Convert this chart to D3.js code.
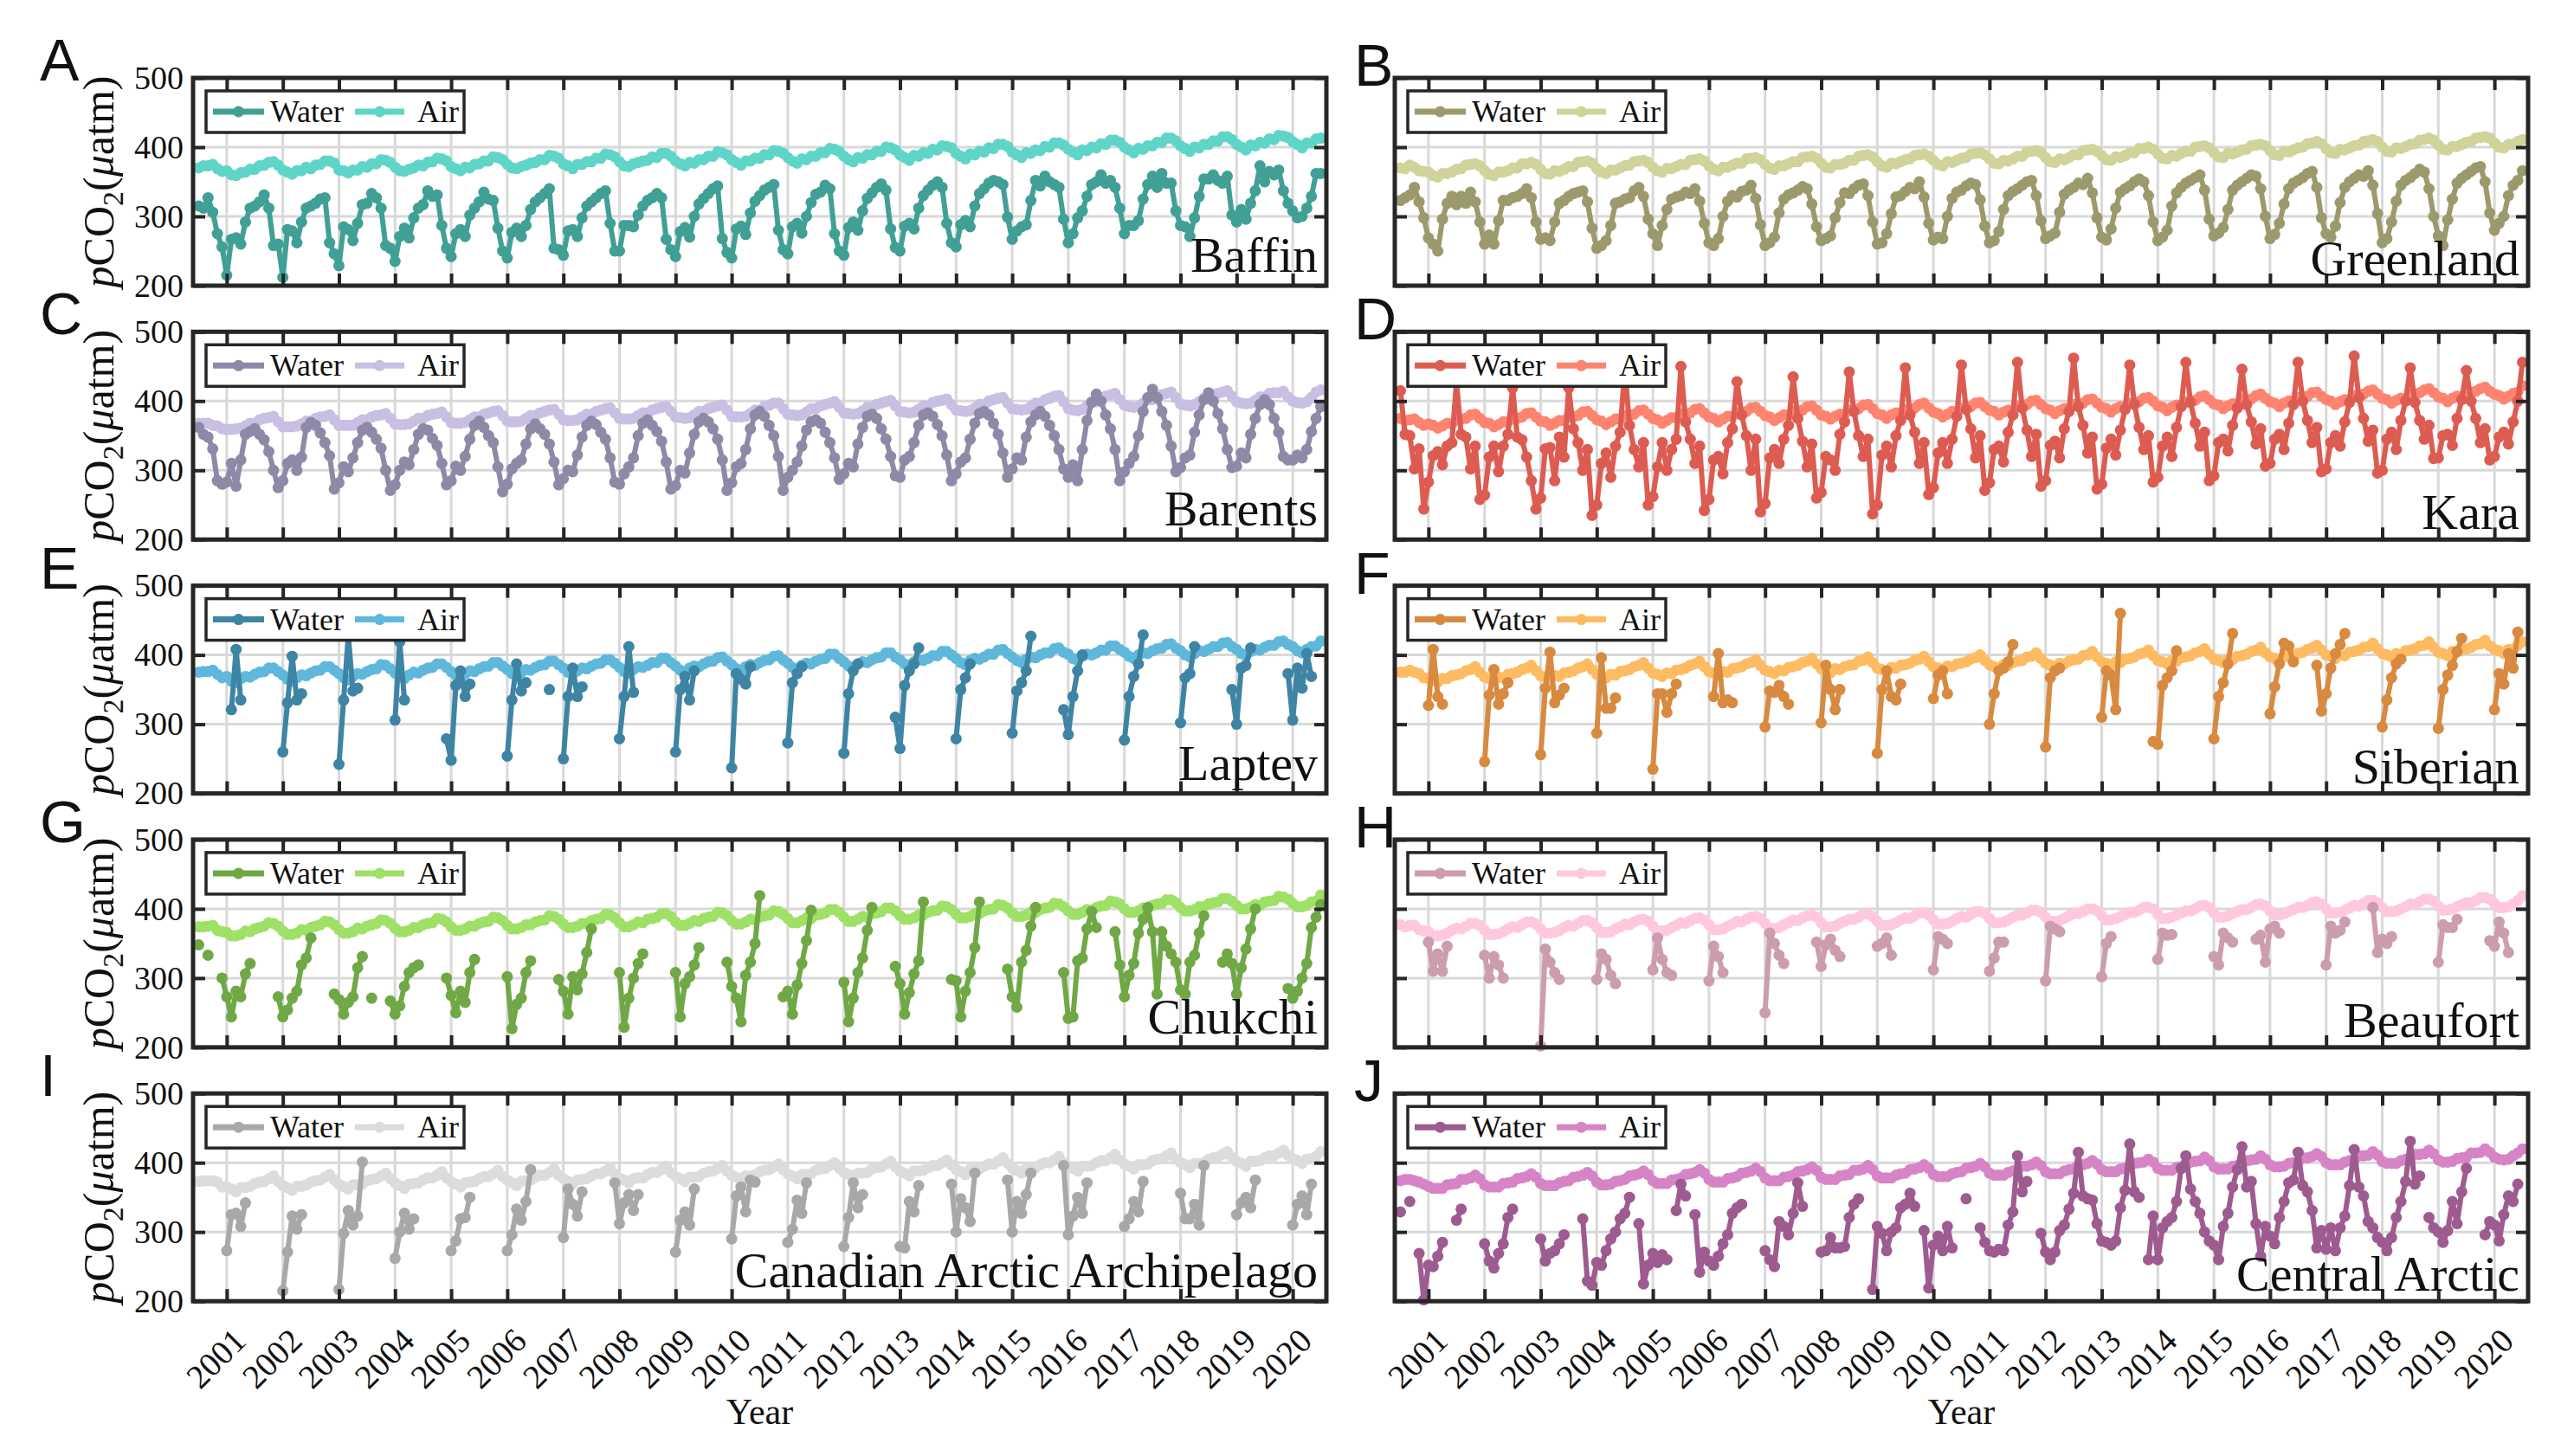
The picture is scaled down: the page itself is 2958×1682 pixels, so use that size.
<!DOCTYPE html>
<html><head><meta charset="utf-8">
<script src="https://cdn.jsdelivr.net/npm/d3@7"></script>
<style>html,body{margin:0;padding:0;background:#fff;} svg{display:block;}</style>
</head><body>
<svg id="chart" width="2958" height="1682"></svg>
<script>
const _ = null;
const yearTicks = [2001,2002,2003,2004,2005,2006,2007,2008,2009,2010,2011,2012,2013,2014,2015,2016,2017,2018,2019,2020];
const yTicks = [200,300,400,500];
const firstMonth = 2000.5; // first monthly sample (values below are monthly, Jul 2000 .. Jul 2020)
const regionNames = ["Baffin","Greenland","Barents","Kara","Laptev","Siberian","Chukchi","Beaufort","Canadian Arctic Archipelago","Central Arctic"];
const panelLetters = ["A","B","C","D","E","F","G","H","I","J"];
const waterColors = ["#40a095","#9c9a6c","#8f89a8","#dd5c52","#3e84a4","#d88a40","#6fa845","#cc9caf","#a8a8a8","#9e5b90"];
const airColors   = ["#5fd5c8","#d0d39a","#c8bfe3","#ff8470","#5fb8dc","#ffbb62","#9fe066","#ffc8df","#dcdcdc","#d684c6"];

const baffinWater = [315,312,327,306,275,256,
215,267,269,260,292,312,315,321,331,312,258,260,
212,281,279,262,292,312,315,319,325,327,262,246,
229,285,281,265,290,317,319,333,327,312,258,254,
235,271,283,269,298,312,317,337,329,331,287,254,
242,275,281,271,302,312,321,335,325,323,283,250,
240,277,283,271,287,310,321,327,333,340,254,252,
244,279,281,271,298,315,321,327,333,337,290,250,
250,287,287,285,302,315,323,327,333,327,267,252,
242,278,284,270,300,318,326,333,340,344,268,248,
240,282,286,274,305,322,330,338,342,346,280,252,
246,285,290,276,300,320,332,335,345,340,275,250,
244,284,292,280,308,326,334,342,347,338,282,255,
250,286,290,282,312,330,338,345,350,342,290,262,
256,288,294,285,315,333,340,348,352,350,346,299,
267,279,285,288,323,352,344,358,350,346,342,296,
262,275,298,308,329,346,350,360,348,352,342,312,
275,287,287,294,325,346,358,342,362,348,348,308,
287,285,271,298,329,354,354,360,352,348,358,302,
292,310,296,319,337,373,350,365,360,367,337,319,
308,298,300,312,329,362,362];
const baffinAir = [370,373,373,375,369,365,
366,360,359,363,364,368,368,373,374,378,379,374,
367,364,361,366,366,371,369,374,375,380,380,377,
367,366,363,367,367,372,371,376,376,382,381,378,
371,366,365,368,370,374,373,378,379,384,383,380,
372,369,366,371,370,375,376,380,380,386,385,382,
375,370,369,372,374,377,378,382,382,388,387,384,
376,373,369,375,375,379,379,384,384,390,389,386,
379,373,372,376,378,380,381,386,385,391,391,387,
380,376,373,378,377,382,382,387,387,393,392,389,
382,378,374,380,380,384,384,389,389,395,394,391,
385,380,377,383,382,387,387,392,392,398,397,394,
387,382,379,385,384,389,389,394,394,400,399,396,
389,385,381,388,387,392,391,397,396,402,401,399,
391,387,383,390,389,394,393,399,398,404,404,401,
393,389,385,392,391,396,395,401,400,406,406,403,
397,393,389,396,395,400,399,405,404,410,410,407,
400,396,392,398,397,402,402,407,407,413,413,409,
402,398,394,400,399,404,404,409,409,415,415,411,
404,400,396,403,402,407,406,412,411,417,416,414,
408,404,399,406,406,412,413];

const greenlandWater = [323,327,331,342,321,298,
269,260,250,296,319,329,317,329,319,335,321,292,
260,273,260,294,323,323,327,329,333,340,327,292,
267,269,265,292,319,323,329,333,335,337,321,283,
254,258,265,287,319,321,325,327,337,342,329,296,
275,258,287,310,325,328,330,335,333,340,322,290,
262,258,268,300,322,330,328,336,338,345,326,288,
258,262,270,305,325,331,334,338,343,340,318,285,
265,268,272,298,320,334,333,340,345,347,330,292,
260,262,275,304,328,330,336,342,340,350,328,290,
266,270,268,300,326,335,338,344,348,346,324,286,
262,265,278,310,330,336,340,345,350,352,330,294,
268,272,276,306,332,338,342,348,346,355,334,298,
270,266,282,312,335,340,344,350,354,350,330,292,
265,270,280,315,334,342,348,352,356,360,338,296,
272,276,284,310,338,345,350,355,360,358,340,300,
268,274,290,318,340,348,352,356,362,365,342,298,
275,270,286,320,342,350,355,360,358,366,345,304,
262,268,292,322,345,352,356,362,368,364,340,300,
272,258,295,325,348,355,360,365,370,372,350,305,
280,290,300,330,345,352,366];
const greenlandAir = [370,369,374,371,366,365,
364,359,357,362,362,364,368,369,374,375,376,373,
366,361,359,364,364,366,370,370,376,376,378,375,
368,362,361,366,365,368,372,372,378,379,380,377,
369,364,362,367,367,370,373,374,379,380,381,378,
371,366,364,369,369,372,375,375,381,382,383,380,
373,368,366,371,371,374,377,377,383,384,385,382,
375,370,368,373,373,376,379,379,385,386,387,384,
377,371,370,375,375,377,381,381,387,388,389,386,
379,373,371,377,376,379,382,383,388,389,390,387,
381,375,373,379,378,381,384,385,390,391,392,389,
383,377,376,381,380,383,387,387,393,394,395,392,
385,379,378,383,382,385,389,389,395,396,397,394,
388,382,381,386,385,388,392,392,398,398,400,397,
390,384,383,388,387,391,394,394,400,401,402,399,
392,386,385,391,390,393,396,397,402,403,404,402,
395,389,388,394,393,396,399,400,405,406,408,405,
398,392,391,397,396,399,402,403,408,409,411,408,
400,394,393,399,398,401,404,405,410,411,413,410,
403,397,396,401,401,404,407,408,413,414,415,413,
406,400,399,404,404,408,411];

const barentsWater = [362,352,348,331,285,280,
283,310,277,315,352,356,360,352,344,327,300,275,
285,310,315,300,319,362,369,365,354,340,321,273,
282,305,298,318,340,358,362,355,345,332,300,271,
279,300,312,308,330,352,360,358,346,336,310,279,
285,306,300,320,345,365,371,362,350,340,305,269,
280,302,310,315,338,360,367,360,352,338,312,279,
288,300,298,322,348,365,371,366,355,345,318,283,
280,295,305,318,350,368,373,365,356,342,312,273,
278,300,296,325,352,370,375,370,360,345,315,271,
282,305,310,330,360,380,385,378,365,350,320,271,
290,300,312,335,358,370,373,368,355,340,318,287,
295,310,305,338,362,378,381,375,360,345,320,292,
290,315,320,340,365,380,383,378,366,350,322,285,
295,312,318,345,368,382,385,380,368,352,325,290,
302,318,315,348,370,380,385,378,365,350,330,302,
290,308,285,330,372,398,410,400,380,360,330,285,
298,310,320,350,385,405,417,405,385,365,335,298,
304,318,322,355,380,402,412,400,382,360,330,304,
306,325,318,352,375,395,402,395,375,355,320,315,
315,322,318,330,356,375,392];
const barentsAir = [368,368,368,365,364,360,
359,359,360,361,364,368,368,373,375,376,378,370,
363,363,363,364,367,371,371,375,377,378,380,373,
365,365,365,365,369,373,373,377,379,380,382,375,
367,366,366,367,371,375,375,379,381,382,384,377,
369,368,368,369,373,377,377,381,383,385,386,379,
371,370,370,371,375,379,379,383,385,387,388,381,
373,372,372,373,377,381,381,385,387,389,390,383,
375,374,374,375,379,383,383,387,389,391,392,385,
377,376,375,376,380,385,385,389,391,393,394,387,
378,377,377,378,382,387,387,392,394,397,397,389,
381,380,379,380,384,389,389,393,395,397,399,391,
383,382,381,382,386,391,391,395,397,399,401,393,
385,384,383,384,388,393,393,398,400,401,403,395,
387,386,385,386,390,395,395,400,402,404,405,397,
389,388,387,388,392,397,397,402,404,407,408,399,
389,387,386,388,393,399,399,404,407,409,411,402,
394,392,391,392,397,402,402,407,409,411,413,405,
396,394,393,395,399,404,404,409,411,413,415,407,
399,397,396,397,401,406,406,411,412,412,414,406,
400,398,397,399,405,413,416];

const karaWater = [415,352,350,302,331,244,
283,321,327,308,335,340,427,352,348,302,335,258,
264,319,335,298,335,352,419,348,344,319,285,244,
260,331,333,285,348,319,419,360,340,300,330,235,
250,310,325,290,335,355,448,365,330,305,340,250,
262,305,340,300,330,345,450,370,345,310,335,242,
258,315,320,295,340,360,428,380,350,300,345,240,
252,318,330,310,345,365,435,375,342,305,338,260,
268,320,315,300,352,370,442,385,350,320,345,237,
250,322,335,305,350,372,448,380,355,310,340,265,
275,325,340,310,345,378,452,388,360,318,350,271,
282,330,335,312,355,380,456,390,358,320,352,277,
285,336,342,318,360,385,462,392,365,325,348,273,
280,332,345,322,358,388,452,395,362,330,350,283,
290,335,348,320,362,392,456,398,368,335,355,285,
292,340,345,328,365,390,446,395,370,338,360,306,
310,345,352,330,368,395,456,400,372,340,362,298,
302,340,350,335,370,398,465,405,375,342,358,296,
300,345,355,330,372,400,448,398,372,345,365,317,
318,350,352,336,375,402,444,400,375,340,360,315,
320,348,355,338,370,400,456];
const karaAir = [375,372,373,374,369,365,
367,365,361,364,368,367,373,374,375,380,381,375,
369,368,363,366,370,370,375,375,377,382,383,377,
371,370,365,368,372,372,377,377,379,384,385,379,
373,371,366,370,374,374,379,379,381,386,387,381,
375,373,368,372,376,376,381,381,383,388,389,383,
377,375,370,374,378,378,383,383,385,390,391,385,
379,377,372,376,380,380,385,385,387,392,393,387,
380,378,374,378,381,381,387,387,389,394,395,389,
382,380,375,380,383,383,388,389,390,395,397,390,
384,382,377,381,385,385,390,391,392,397,398,392,
387,385,380,384,387,387,393,393,395,400,401,395,
389,387,382,386,389,389,395,395,397,402,403,397,
391,389,384,389,392,392,397,398,399,404,405,400,
393,391,386,391,394,394,399,400,401,406,408,402,
396,394,389,393,396,396,402,402,403,408,410,404,
399,397,392,397,400,400,405,406,407,412,413,407,
402,400,395,399,402,402,408,408,410,414,416,410,
404,402,397,401,404,404,410,410,412,416,418,412,
406,404,399,404,407,407,412,413,414,418,420,414,
410,408,403,407,411,413,422];

const laptevWater = [_,_,_,_,_,_,
_,321,408,335,_,_,_,_,_,_,_,_,
260,331,398,335,344,_,_,_,_,_,_,_,
242,335,428,348,352,_,_,_,_,_,_,_,
306,419,335,_,_,_,_,_,_,_,_,279,
248,356,377,340,358,_,_,_,_,_,_,_,
254,335,387,348,360,_,_,_,_,350,_,_,
250,340,381,340,354,_,_,_,_,_,_,_,
279,340,412,346,_,_,_,_,_,_,_,_,
260,350,369,335,377,_,_,_,_,_,_,_,
237,373,365,358,383,_,_,_,_,_,_,_,
273,360,373,383,_,_,_,_,_,_,_,_,
258,344,377,387,_,_,_,_,_,_,_,310,
265,356,377,387,410,_,_,_,_,_,_,_,
279,350,367,387,_,_,_,_,_,_,_,_,
287,348,360,377,427,_,_,_,_,_,_,321,
285,340,377,400,_,_,_,_,_,_,_,_,
277,340,369,387,429,_,_,_,_,_,_,_,
302,367,373,412,_,_,_,_,_,_,_,350,
300,381,385,410,_,_,_,_,_,_,_,373,
306,381,352,402,369,_,_];
const laptevAir = [375,376,376,378,372,367,
369,362,360,366,369,368,372,375,376,381,381,376,
371,365,362,367,371,370,374,377,378,383,383,378,
373,367,364,369,373,372,376,379,380,386,385,380,
374,369,366,371,375,374,378,381,382,387,387,382,
376,371,368,373,377,376,380,383,384,389,389,384,
379,373,370,375,379,378,382,385,386,391,391,386,
381,375,372,377,381,380,384,387,388,393,393,388,
382,376,374,379,383,382,385,389,389,395,395,389,
384,378,375,381,384,383,387,390,391,396,397,391,
386,380,377,383,386,385,389,392,393,398,399,393,
388,382,379,385,388,387,391,394,395,401,401,395,
390,384,381,387,390,389,393,396,397,403,403,397,
393,387,384,390,393,392,395,399,399,405,405,400,
395,389,386,392,395,394,397,401,401,407,408,402,
397,392,389,394,397,396,400,403,403,409,410,404,
401,395,392,398,401,400,403,407,407,413,413,408,
404,398,395,400,403,402,406,409,410,415,416,410,
406,400,397,402,406,405,408,412,412,417,418,412,
408,402,399,405,408,407,411,414,414,419,420,415,
412,406,403,408,412,413,420];

const siberianWater = [_,_,_,_,_,_,
327,408,340,329,_,_,_,_,_,_,_,_,
246,342,379,329,344,360,_,_,_,_,_,_,
256,352,404,331,342,352,_,_,_,_,_,_,
287,396,323,323,338,_,_,_,_,_,_,_,
235,344,344,317,344,358,_,_,_,_,_,_,
_,340,402,331,335,331,_,_,_,_,_,_,
296,348,346,356,340,329,_,_,_,_,_,_,
302,385,350,321,350,_,_,_,_,_,_,_,
258,350,377,340,335,358,_,_,_,_,_,_,
337,371,377,344,_,_,_,_,_,_,_,_,
300,344,377,381,390,415,_,_,_,_,_,_,
267,367,377,381,_,_,_,_,_,_,_,_,
310,377,371,321,460,_,_,_,_,_,_,275,
271,356,367,377,406,_,_,_,_,_,_,_,
279,340,360,387,431,_,_,_,_,_,_,_,
315,354,387,417,413,390,_,_,_,_,385,319,
344,381,402,415,431,_,_,_,_,_,_,_,
296,335,367,387,394,_,_,_,_,_,_,_,
294,350,371,385,405,424,_,_,_,_,_,_,
321,373,358,402,381,433,_];
const siberianAir = [375,375,378,375,373,367,
366,364,361,366,366,370,371,373,377,379,383,375,
368,366,363,368,367,372,373,375,379,381,385,377,
370,368,365,370,369,374,375,377,381,383,387,379,
372,370,367,372,371,376,377,379,383,385,389,381,
374,372,369,374,373,378,379,381,385,387,391,383,
376,374,371,376,375,380,381,383,387,389,393,385,
378,376,373,378,377,382,383,385,389,391,395,387,
380,377,374,380,379,383,385,386,391,392,397,389,
381,379,376,382,381,385,386,388,392,394,398,390,
383,381,378,384,383,387,388,390,394,396,400,392,
386,383,380,386,385,389,391,392,397,398,403,395,
388,385,382,388,387,391,393,394,399,400,405,397,
390,388,385,390,389,394,395,397,401,403,407,399,
392,390,387,392,391,396,397,399,403,405,409,401,
394,392,389,394,393,398,399,401,405,407,411,403,
397,395,392,398,397,401,402,404,408,410,414,407,
400,398,395,400,399,404,405,407,411,412,417,409,
402,400,397,402,401,406,407,409,413,414,419,411,
404,402,399,405,404,408,409,411,415,416,421,413,
408,406,402,408,408,414,419];

const chukchiWater = [348,_,333,_,_,300,
273,244,281,273,306,321,_,_,_,_,_,273,
244,254,271,281,319,329,358,_,_,_,_,277,
269,248,265,273,315,331,_,271,_,_,_,267,
248,260,288,308,315,319,_,_,_,_,_,300,
275,250,281,265,308,327,_,_,_,_,_,_,
302,227,262,271,308,325,_,_,_,_,_,298,
281,248,302,283,306,337,371,_,_,_,_,_,
308,229,271,300,321,335,_,_,_,_,_,_,
308,244,292,302,319,344,_,_,_,_,_,323,
288,271,237,304,323,350,419,_,_,_,_,273,
281,248,290,321,354,398,_,_,_,_,_,_,
294,237,271,308,329,369,402,_,_,_,_,317,
292,248,279,306,325,410,_,_,_,_,_,298,
296,244,281,308,344,410,_,_,_,_,_,313,
273,258,323,340,375,402,_,_,_,_,_,308,
242,244,325,329,371,396,373,_,_,_,367,319,
273,304,321,365,385,402,367,277,367,346,335,323,
283,277,323,333,365,390,_,_,_,323,335,321,
277,315,342,371,400,_,_,_,_,_,_,285,
271,281,300,321,373,388,406];
const chukchiAir = [374,374,375,376,369,367,
366,361,361,363,368,367,371,373,375,380,379,375,
368,363,363,365,370,369,373,375,377,382,381,377,
370,365,365,367,372,371,375,377,379,384,383,379,
372,367,367,369,373,373,377,379,380,386,385,381,
374,369,369,371,375,375,379,381,382,388,387,383,
376,371,371,373,377,377,381,383,384,390,389,385,
378,373,373,375,379,379,383,385,386,392,391,387,
380,374,374,377,381,380,385,386,388,393,393,389,
381,376,376,379,383,382,386,388,389,395,394,390,
383,378,378,381,385,384,388,390,391,397,396,392,
386,380,380,383,387,386,391,392,394,399,399,395,
388,382,382,385,389,388,393,394,396,401,401,397,
390,385,385,387,391,391,395,397,398,404,403,399,
392,387,387,389,393,393,397,399,400,406,405,401,
394,389,389,391,395,395,399,401,402,408,407,403,
397,392,392,395,399,398,402,404,405,411,410,407,
400,395,395,397,401,401,405,407,408,413,413,409,
402,397,397,399,403,403,407,409,410,415,415,411,
405,400,400,402,406,405,410,411,412,418,417,414,
408,403,403,405,410,411,420];

const beaufortWater = [_,_,_,_,_,_,
352,310,335,310,346,_,_,_,_,_,_,_,
333,300,331,319,300,_,_,_,_,_,_,_,
202,342,323,308,298,_,_,_,_,_,_,_,
298,335,327,304,292,_,_,_,_,_,_,_,
312,358,327,308,304,_,_,_,_,_,_,_,
296,346,331,308,_,_,_,_,_,_,_,_,
250,365,350,333,321,_,_,_,_,_,_,352,
317,348,356,340,331,_,_,_,_,_,_,_,
346,350,358,333,_,_,_,_,_,_,_,_,
312,360,356,350,_,_,_,_,_,_,_,_,
310,329,352,352,_,_,_,_,_,_,_,_,
296,375,371,367,_,_,_,_,_,_,_,_,
302,350,360,_,_,_,_,_,_,_,_,_,
327,365,362,363,_,_,_,_,_,_,_,_,
331,319,365,358,352,_,_,_,_,356,362,323,
371,375,365,_,_,_,_,_,_,_,_,_,
319,375,365,369,381,_,_,_,_,_,402,337,
356,350,360,_,_,_,_,_,_,_,_,_,
323,377,373,373,385,_,_,_,_,_,_,354,
346,381,365,337,_,_,_];
const beaufortAir = [377,374,376,376,370,368,
367,361,361,362,365,369,372,371,375,379,379,376,
369,363,363,364,367,371,374,373,377,381,381,378,
371,365,365,366,369,373,376,375,379,383,383,380,
373,366,366,367,371,374,378,377,381,384,385,382,
375,368,368,369,373,376,380,379,383,386,387,384,
377,370,370,371,375,378,382,381,385,388,389,386,
379,372,372,373,377,380,384,383,387,390,391,388,
380,374,374,375,379,382,385,385,388,392,393,389,
382,376,376,377,380,384,387,386,390,394,394,391,
384,378,378,379,382,386,389,388,392,396,396,393,
386,380,380,381,384,388,391,391,394,398,398,395,
388,382,382,383,386,390,393,393,396,400,400,397,
390,384,384,386,389,392,395,395,398,402,402,400,
392,386,386,388,391,394,397,397,400,404,405,402,
394,388,388,390,393,396,399,399,402,406,407,404,
397,391,391,393,396,399,402,402,405,409,410,407,
400,394,394,395,398,401,405,404,408,412,412,409,
402,396,396,397,400,403,407,406,410,414,414,411,
404,398,398,400,403,406,409,409,412,416,416,414,
408,402,402,403,407,412,419];

const caaWater = [_,_,_,_,_,_,
273,325,327,308,342,_,_,_,_,_,_,_,
215,271,323,304,325,_,_,_,_,_,_,_,
217,298,331,310,323,401,_,_,_,_,_,_,
262,300,327,304,319,_,_,_,_,_,_,_,
273,287,319,321,350,_,_,_,_,_,_,_,
273,296,333,317,344,390,_,_,_,_,_,_,
292,362,340,323,358,_,_,_,_,_,_,371,
312,342,354,331,354,_,_,_,_,_,_,_,
271,317,329,310,362,_,_,_,_,_,_,_,
290,352,365,329,375,372,_,_,_,_,_,_,
285,304,346,327,371,_,_,_,_,_,_,_,
279,321,371,335,354,_,_,_,_,_,_,_,
279,277,344,329,367,_,_,_,_,_,_,369,
300,348,335,315,385,_,_,_,_,_,_,375,
300,344,327,354,385,_,_,_,_,_,_,396,
296,323,350,327,371,_,_,_,_,_,_,_,
308,319,344,329,373,_,_,_,_,_,_,_,
356,319,319,340,310,396,_,_,_,_,_,_,
325,342,350,335,375,_,_,_,_,_,_,_,
310,340,352,325,369,_,_];
const caaAir = [373,374,374,374,372,365,
365,362,358,364,364,366,370,372,373,377,381,373,
367,364,360,366,366,368,372,374,375,379,383,375,
369,366,362,368,368,369,374,376,377,381,385,377,
371,367,363,369,370,371,375,378,378,382,387,378,
373,369,365,371,372,373,377,380,380,384,389,380,
375,371,367,373,374,375,379,382,382,386,391,382,
377,373,369,375,376,377,381,384,384,388,393,384,
378,375,371,377,378,378,383,386,386,390,395,386,
380,377,373,379,379,380,385,387,388,392,396,388,
382,379,375,381,381,382,387,389,390,394,398,390,
384,381,377,383,383,384,389,391,392,396,400,392,
386,383,379,385,385,386,391,393,394,398,402,394,
388,385,381,388,388,389,393,396,396,400,404,397,
390,387,383,390,390,391,395,398,398,402,407,399,
392,389,385,392,392,393,397,400,400,404,409,401,
395,392,388,395,395,396,400,403,403,407,412,404,
398,395,391,397,397,398,403,405,406,410,414,406,
400,397,393,399,399,400,405,407,408,412,416,408,
402,399,395,402,402,403,407,410,410,414,418,411,
406,403,399,405,406,409,416];

const centralWater = [329,_,344,_,269,202,
252,250,265,285,_,_,317,333,_,_,_,_,
283,258,248,269,283,321,333,_,_,_,_,_,
290,258,269,273,283,296,_,_,_,319,229,223,
256,252,273,290,300,319,327,350,_,312,225,252,
269,256,267,260,_,331,369,352,_,325,242,271,
258,252,265,283,296,327,335,340,_,_,_,_,
273,260,250,315,308,296,327,371,337,_,_,_,
271,273,292,277,277,279,321,340,348,_,_,217,
308,298,273,300,306,335,340,356,337,_,302,219,
281,294,273,308,277,_,_,348,_,_,306,285,
273,271,275,273,310,329,410,358,373,_,_,298,
271,260,271,302,310,333,356,415,352,348,346,312,
287,285,281,287,335,360,427,358,350,_,260,323,
260,306,315,321,344,392,410,362,344,327,300,287,
281,260,308,327,365,390,423,365,373,312,265,308,
294,283,321,344,371,375,415,367,358,331,277,302,
275,306,273,306,323,367,419,365,352,315,306,292,
285,273,292,321,344,373,431,369,381,_,321,306,
300,285,302,344,312,358,392,_,_,_,296,315,
310,287,325,352,344,369,_];
const centralAir = [374,376,376,374,372,369,
366,363,363,363,368,369,370,376,376,378,382,377,
368,365,365,365,370,371,372,377,378,380,384,379,
370,367,367,367,371,373,374,379,380,382,386,381,
372,368,368,369,373,374,376,381,382,384,388,383,
374,370,370,370,375,376,378,383,384,386,390,385,
376,372,372,372,377,378,380,385,386,388,392,387,
378,374,374,374,379,380,382,387,388,390,394,389,
379,376,376,376,381,382,383,389,389,391,396,390,
381,378,378,378,382,384,385,390,391,393,397,392,
383,380,380,380,384,386,387,392,393,395,399,394,
385,382,382,382,386,388,389,395,395,397,401,396,
387,384,384,384,388,390,391,397,397,399,403,398,
390,387,387,387,391,392,394,399,400,401,405,401,
392,389,389,389,393,394,396,401,402,403,408,403,
394,391,391,391,395,396,398,403,404,405,410,405,
397,394,394,395,399,400,401,407,407,409,413,409,
400,397,397,397,401,403,404,410,410,411,416,411,
402,399,399,399,403,405,406,412,412,413,418,413,
404,401,401,402,406,407,408,414,414,415,420,415,
408,405,404,405,410,414,420];

const waterSeries = [baffinWater, greenlandWater, barentsWater, karaWater, laptevWater, siberianWater, chukchiWater, beaufortWater, caaWater, centralWater];
const airSeries = [baffinAir, greenlandAir, barentsAir, karaAir, laptevAir, siberianAir, chukchiAir, beaufortAir, caaAir, centralAir];

const SERIF = "'Liberation Serif','Times New Roman',Times,serif";
const SANS = "'Liberation Sans',Arial,Helvetica,sans-serif";
const FRAME = "#262626";
const svg = d3.select("#chart");
const colLeft = [223, 1611];
const pw = 1309, ph = 240;
const rowTop = [90, 383.3, 676.6, 969.9, 1263.2];
const x = d3.scaleLinear().domain([2000.4, 2020.6]).range([0, pw]);
const y = d3.scaleLinear().domain([200, 500]).range([ph, 0]);

function toPoints(arr){ return arr.map((v,i)=>({t: firstMonth + i/12, v: v})); }

regionNames.forEach((name, idx) => {
  const col = idx % 2, row = Math.floor(idx / 2);
  const g = svg.append("g").attr("transform", `translate(${colLeft[col]},${rowTop[row]})`);
  const wc = waterColors[idx], ac = airColors[idx];

  g.selectAll("line.vg").data(yearTicks).join("line").attr("class","vg")
    .attr("x1", d=>x(d)).attr("x2", d=>x(d)).attr("y1",0).attr("y2",ph)
    .attr("stroke","#d9d9d9").attr("stroke-width",3);
  g.selectAll("line.hg").data([300,400]).join("line").attr("class","hg")
    .attr("x1",0).attr("x2",pw).attr("y1",d=>y(d)).attr("y2",d=>y(d))
    .attr("stroke","#d9d9d9").attr("stroke-width",3);

  const line = d3.line().defined(d=>d.v!=null).x(d=>x(d.t)).y(d=>y(d.v));
  const wPts = toPoints(waterSeries[idx]);
  const aPts = toPoints(airSeries[idx]);

  g.append("path").datum(aPts).attr("d", line).attr("fill","none").attr("stroke",ac).attr("stroke-width",6).attr("stroke-linejoin","round");
  g.selectAll("circle.air").data(aPts.filter(d=>d.v!=null)).join("circle").attr("class","air")
    .attr("cx",d=>x(d.t)).attr("cy",d=>y(d.v)).attr("r",6.5).attr("fill",ac);
  g.append("path").datum(wPts).attr("d", line).attr("fill","none").attr("stroke",wc).attr("stroke-width",6).attr("stroke-linejoin","round");
  g.selectAll("circle.water").data(wPts.filter(d=>d.v!=null)).join("circle").attr("class","water")
    .attr("cx",d=>x(d.t)).attr("cy",d=>y(d.v)).attr("r",6.5).attr("fill",wc);

  const styleAxis = sel => { sel.select(".domain").remove(); sel.selectAll(".tick line").attr("stroke",FRAME).attr("stroke-width",4); };
  const gb = g.append("g").attr("transform",`translate(0,${ph})`)
    .call(d3.axisBottom(x).tickValues(yearTicks).tickSize(-14).tickFormat(row===4 ? d3.format("d") : ()=>""));
  styleAxis(gb);
  gb.selectAll(".tick text").attr("x",0).attr("y",0).attr("dy",0).attr("text-anchor","end")
    .attr("transform","translate(24,48) rotate(-45)").attr("font-family",SERIF).attr("font-size",39).attr("fill","#111");
  const gt = g.append("g").call(d3.axisTop(x).tickValues(yearTicks).tickSize(-14).tickFormat(()=>""));
  styleAxis(gt);
  const gl = g.append("g").call(d3.axisLeft(y).tickValues(yTicks).tickSize(-14).tickPadding(11).tickFormat(col===0 ? d3.format("d") : ()=>""));
  styleAxis(gl);
  gl.selectAll(".tick text").attr("font-family",SERIF).attr("font-size",38).attr("fill","#111");
  const gr = g.append("g").attr("transform",`translate(${pw},0)`).call(d3.axisRight(y).tickValues(yTicks).tickSize(-14).tickFormat(()=>""));
  styleAxis(gr);

  g.append("rect").attr("x",0).attr("y",0).attr("width",pw).attr("height",ph)
    .attr("fill","none").attr("stroke",FRAME).attr("stroke-width",5);

  const lg = g.append("g").attr("transform","translate(15,15)");
  lg.append("rect").attr("width",298).attr("height",48).attr("fill","#fff").attr("stroke",FRAME).attr("stroke-width",3.5);
  lg.append("line").attr("x1",8).attr("x2",67).attr("y1",24).attr("y2",24).attr("stroke",wc).attr("stroke-width",7);
  lg.append("circle").attr("cx",37.5).attr("cy",24).attr("r",6.5).attr("fill",wc);
  lg.append("text").attr("x",74).attr("y",36).text("Water").attr("font-family",SERIF).attr("font-size",36).attr("fill","#111");
  lg.append("line").attr("x1",172).attr("x2",229).attr("y1",24).attr("y2",24).attr("stroke",ac).attr("stroke-width",7);
  lg.append("circle").attr("cx",200.5).attr("cy",24).attr("r",6.5).attr("fill",ac);
  lg.append("text").attr("x",244).attr("y",36).text("Air").attr("font-family",SERIF).attr("font-size",36).attr("fill","#111");

  g.append("text").attr("x",pw-10).attr("y",ph-(col===0?16:12)).attr("text-anchor","end")
    .attr("font-family",SERIF).attr("font-size",58).attr("fill","#111").text(name);

  svg.append("text").attr("x", col===0 ? 46 : 1564).attr("y", rowTop[row] + (col===0 ? 3 : 9))
    .attr("font-family",SANS).attr("font-size",68).attr("fill","#111").text(panelLetters[idx]);

  if (col===0) {
    const t = g.append("text").attr("transform",`translate(-92,${ph/2}) rotate(-90)`).attr("text-anchor","middle")
      .attr("font-family",SERIF).attr("font-size",50).attr("fill","#111");
    t.append("tspan").attr("font-style","italic").text("p");
    t.append("tspan").text("CO");
    t.append("tspan").attr("font-size",34).attr("dy",11).text("2");
    t.append("tspan").attr("dy",-11).text("(");
    t.append("tspan").attr("font-style","italic").text("\u03bc");
    t.append("tspan").text("atm)");
  }
  if (row===4) {
    g.append("text").attr("x",pw/2).attr("y",382).attr("text-anchor","middle")
      .attr("font-family",SERIF).attr("font-size",42).attr("fill","#111").text("Year");
  }
});
</script>
</body></html>
